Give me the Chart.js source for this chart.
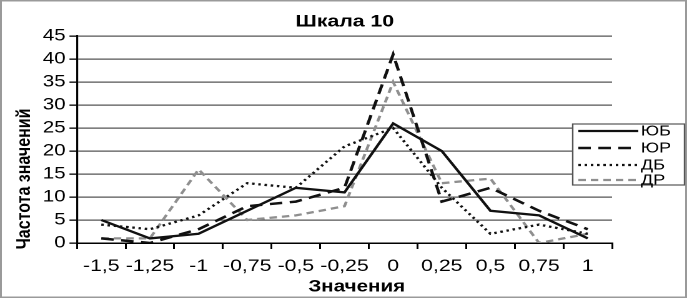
<!DOCTYPE html>
<html>
<head>
<meta charset="utf-8">
<script src="https://cdn.jsdelivr.net/npm/chart.js@4/dist/chart.umd.min.js"></script>
<style>
  html, body { margin: 0; padding: 0; background: #fff; overflow: hidden; }
  #wrap { width: 550px; height: 298px; transform: scaleX(1.2491); transform-origin: 0 0; }
</style>
</head>
<body>
<div id="wrap"><canvas id="c"></canvas></div>
<script>
// ---- data ----
const categories = ["-1,5", "-1,25", "-1", "-0,75", "-0,5", "-0,25", "0", "0,25", "0,5", "0,75", "1"];
const seriesNames = ["ЮБ", "ЮР", "ДБ", "ДР"];
const valuesUB = [5, 1, 2, 7, 12, 11, 26, 20, 7, 6, 1];
const valuesUR = [1, 0, 3, 8, 9, 12, 41, 9, 12, 7, 3];
const valuesDB = [4, 3, 6, 13, 12, 21, 25, 12, 2, 4, 2];
const valuesDR = [1, 1, 16, 5, 6, 8, 35, 13, 14, 0, 2];
const chartTitle = "Шкала 10";
const xTitle = "Значения";
const yTitle = "Частота значений";

const FONT = "'Liberation Sans', Arial, sans-serif";

const styles = [
  { color: "#111", dash: [], width: 2.3 },
  { color: "#111", dash: [10, 6], width: 2.5 },
  { color: "#111", dash: [2, 3], width: 2.3 },
  { color: "#8f8f8f", dash: [6, 4], width: 2.3 }
];
const seriesValues = [valuesUB, valuesUR, valuesDB, valuesDR];

const decor = {
  id: "decor",
  afterDraw(chart) {
    const ctx = chart.ctx;
    const W = chart.width, H = chart.height;
    ctx.save();
    // outer border
    ctx.strokeStyle = "#9a9a9a";
    ctx.lineWidth = 1.5;
    ctx.strokeRect(0.75, 0.75, W - 1.5, H - 1.5);
    // title
    ctx.fillStyle = "#000";
    ctx.textAlign = "center";
    ctx.textBaseline = "middle";
    ctx.font = "bold 17px " + FONT;
    ctx.fillText(chartTitle, 276, 22);
    // x title
    ctx.font = "bold 16.5px " + FONT;
    ctx.fillText(xTitle, 285.6, 287);
    // y title
    ctx.save();
    ctx.translate(19.5, 179);
    ctx.rotate(-Math.PI / 2);
    ctx.font = "bold 16px " + FONT;
    ctx.fillText(yTitle, 0, 0);
    ctx.restore();
    // legend
    const lx = 458.5, ly = 124, lw = 89.5, lh = 61;
    ctx.fillStyle = "#fff";
    ctx.fillRect(lx, ly, lw, lh);
    ctx.strokeStyle = "#555";
    ctx.lineWidth = 1.2;
    ctx.strokeRect(lx, ly, lw, lh);
    const rows = [131, 148, 165, 180];
    chart.data.datasets.forEach((ds, i) => {
      ctx.beginPath();
      ctx.strokeStyle = ds.borderColor;
      ctx.lineWidth = ds.borderWidth;
      ctx.setLineDash(ds.borderDash || []);
      ctx.moveTo(463, rows[i]);
      ctx.lineTo(511, rows[i]);
      ctx.stroke();
      ctx.setLineDash([]);
      ctx.fillStyle = "#000";
      ctx.textAlign = "left";
      ctx.font = "14.5px " + FONT;
      ctx.fillText(ds.label, 513, rows[i] + 0.5);
    });
    ctx.restore();
  }
};

new Chart(document.getElementById("c"), {
  type: "line",
  data: {
    labels: categories,
    datasets: seriesNames.map((n, i) => ({
      label: n,
      data: seriesValues[i],
      borderColor: styles[i].color,
      borderWidth: styles[i].width,
      borderDash: styles[i].dash,
      borderCapStyle: "butt",
      pointRadius: 0,
      tension: 0,
      fill: false
    }))
  },
  options: {
    responsive: true,
    maintainAspectRatio: false,
    animation: false,
    devicePixelRatio: 2,
    layout: { padding: { left: 0, right: 60, top: 36, bottom: 0 } },
    plugins: {
      legend: { display: false },
      title: { display: false },
      tooltip: { enabled: false }
    },
    scales: {
      x: {
        type: "category",
        offset: true,
        afterFit(scale) { scale.height = 55; },
        grid: {
          offset: true,
          drawOnChartArea: false,
          drawTicks: true,
          tickLength: 6,
          color: "#000",
          lineWidth: 1.5
        },
        border: { display: true, color: "#000", width: 1.5 },
        ticks: {
          color: "#000",
          font: { family: FONT, size: 17 },
          padding: 7,
          maxRotation: 0,
          autoSkip: false
        }
      },
      y: {
        min: 0,
        max: 45,
        afterFit(scale) { scale.width = 61.6; },
        afterBuildTicks(scale) {
          const t = [];
          for (let v = 0; v <= 45; v += 5) t.push({ value: v });
          scale.ticks = t;
        },
        grid: {
          color: "#555",
          lineWidth: 1.3,
          drawTicks: true,
          tickLength: 6,
          tickColor: "#000"
        },
        border: { display: true, color: "#000", width: 1.6 },
        ticks: {
          stepSize: 5,
          autoSkip: false,
          color: "#000",
          padding: 3,
          font: { family: FONT, size: 16.5 }
        }
      }
    }
  },
  plugins: [decor]
});
</script>
</body>
</html>
